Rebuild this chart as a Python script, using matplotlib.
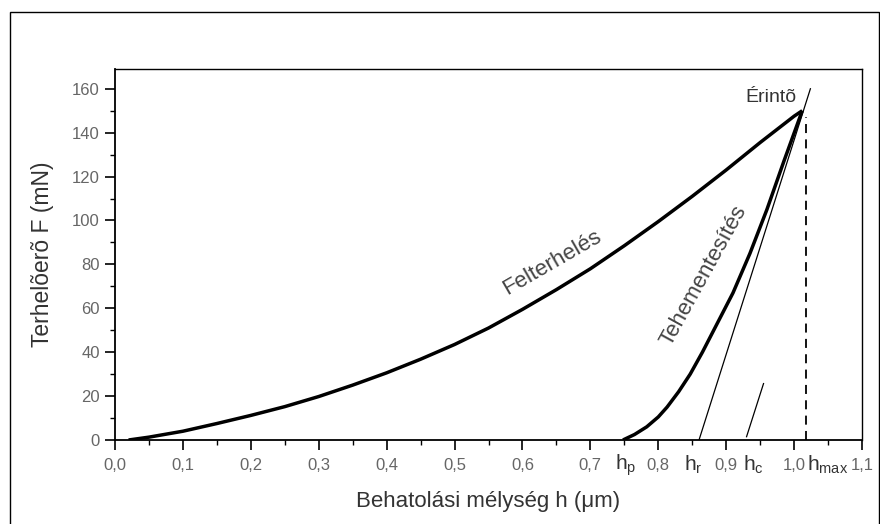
import matplotlib
matplotlib.use("Agg")
import matplotlib.pyplot as plt
from matplotlib.ticker import MultipleLocator, FuncFormatter
from matplotlib.patches import Rectangle
import matplotlib.transforms as mtransforms

plt.rcParams['font.family'] = ['Liberation Sans', 'DejaVu Sans']
plt.rcParams['mathtext.fontset'] = 'custom'
plt.rcParams['mathtext.rm'] = 'Liberation Sans'
plt.rcParams['mathtext.it'] = 'Liberation Sans'

# Loading curve (Felterhelés)
load_h = [0.02, 0.05, 0.10, 0.15, 0.20, 0.25, 0.30, 0.35, 0.40, 0.45, 0.50,
          0.55, 0.60, 0.65, 0.70, 0.75, 0.80, 0.85, 0.90, 0.95, 1.00, 1.012]
load_F = [0.0, 1.3, 4.0, 7.5, 11.2, 15.2, 19.8, 25.0, 30.6, 36.8, 43.5,
          51.0, 59.5, 68.5, 78.0, 88.5, 99.5, 111.0, 123.0, 135.5, 147.5, 150.0]

# Unloading curve (Tehementesítés)
unload_h = [0.748, 0.765, 0.783, 0.800, 0.813, 0.830, 0.847, 0.865, 0.880,
            0.895, 0.910, 0.935, 0.960, 0.985, 1.012]
unload_F = [0.0, 2.5, 6.0, 10.5, 15.0, 22.0, 30.0, 40.0, 49.0,
            58.0, 67.0, 85.0, 105.0, 127.0, 150.0]

# Tangent line (Érintő)
tangent_h = [0.860, 1.024]
tangent_F = [0.0, 160.0]

# Short auxiliary segment near h_c
hc_seg_h = [0.930, 0.955]
hc_seg_F = [1.5, 25.7]

# h_max dashed line
hmax_h = 1.018
hmax_F = [0.0, 147.0]

x_ticks = [0.0, 0.1, 0.2, 0.3, 0.4, 0.5, 0.6, 0.7, 0.8, 0.9, 1.0, 1.1]
y_ticks = [0, 20, 40, 60, 80, 100, 120, 140, 160]

h_labels = ['h$_{\\mathrm{p}}$', 'h$_{\\mathrm{r}}$', 'h$_{\\mathrm{c}}$', 'h$_{\\mathrm{max}}$']
h_label_pos = [0.752, 0.852, 0.940, 1.050]

fig = plt.figure(figsize=(8.8, 5.24), dpi=100)
ax = fig.add_axes([115/880, 1-440/524, (862-115)/880, (440-69)/524])

kw = dict(solid_joinstyle='round', solid_capstyle='butt')
ax.plot(load_h, load_F, color='black', lw=2.5, **kw)
ax.plot(unload_h, unload_F, color='black', lw=2.5, **kw)
ax.plot(tangent_h, tangent_F, color='black', lw=0.9)
ax.plot(hc_seg_h, hc_seg_F, color='black', lw=0.9)
ax.plot([hmax_h, hmax_h], hmax_F, color='black', lw=1.3, linestyle=(0, (5, 3.5)))

ax.set_xlim(0, 1.1)
ax.set_ylim(0, 169)
ax.set_xticks(x_ticks)
ax.set_yticks(y_ticks)
ax.xaxis.set_minor_locator(MultipleLocator(0.05))
ax.yaxis.set_minor_locator(MultipleLocator(10))
ax.xaxis.set_major_formatter(FuncFormatter(lambda v, p: f"{v:.1f}".replace('.', ',')))
ax.tick_params(which='major', direction='out', length=7, width=1.2,
               labelsize=12, labelcolor='#666666', top=False, right=False)
ax.tick_params(which='minor', direction='out', length=3.5, width=1.0, top=False, right=False)
ax.tick_params(axis='x', pad=6)
ax.tick_params(axis='y', pad=4)
for s in ax.spines.values():
    s.set_linewidth(1.0)
ax.spines['left'].set_linewidth(1.3)
ax.spines['bottom'].set_linewidth(1.3)

ax.set_xlabel('Behatolási mélység h (μm)', fontsize=16, color='#333333', labelpad=13)
ax.set_ylabel('Terhelõerõ F (mN)', fontsize=16.5, color='#333333', labelpad=13)

trans = mtransforms.blended_transform_factory(ax.transData, ax.transAxes)
for lab, pos in zip(h_labels, h_label_pos):
    ax.text(pos, -0.068, lab, transform=trans, ha='center', va='center',
            fontsize=15, color='#333333')

ax.text(0.644, 81, 'Felterhelés', rotation=30, ha='center', va='center',
        fontsize=16, color='#444444', rotation_mode='anchor')
ax.text(0.867, 75, 'Tehementesítés', rotation=61, ha='center', va='center',
        fontsize=16, color='#444444', rotation_mode='anchor')
ax.text(0.966, 156, 'Érintõ', ha='center', va='center', fontsize=14, color='#333333')

fig.patches.append(Rectangle((10/880, -0.02), 869/880, (524-12)/524 + 0.02,
                             transform=fig.transFigure, fill=False,
                             edgecolor='black', lw=1.0))

fig.savefig('out.png', dpi=100)
